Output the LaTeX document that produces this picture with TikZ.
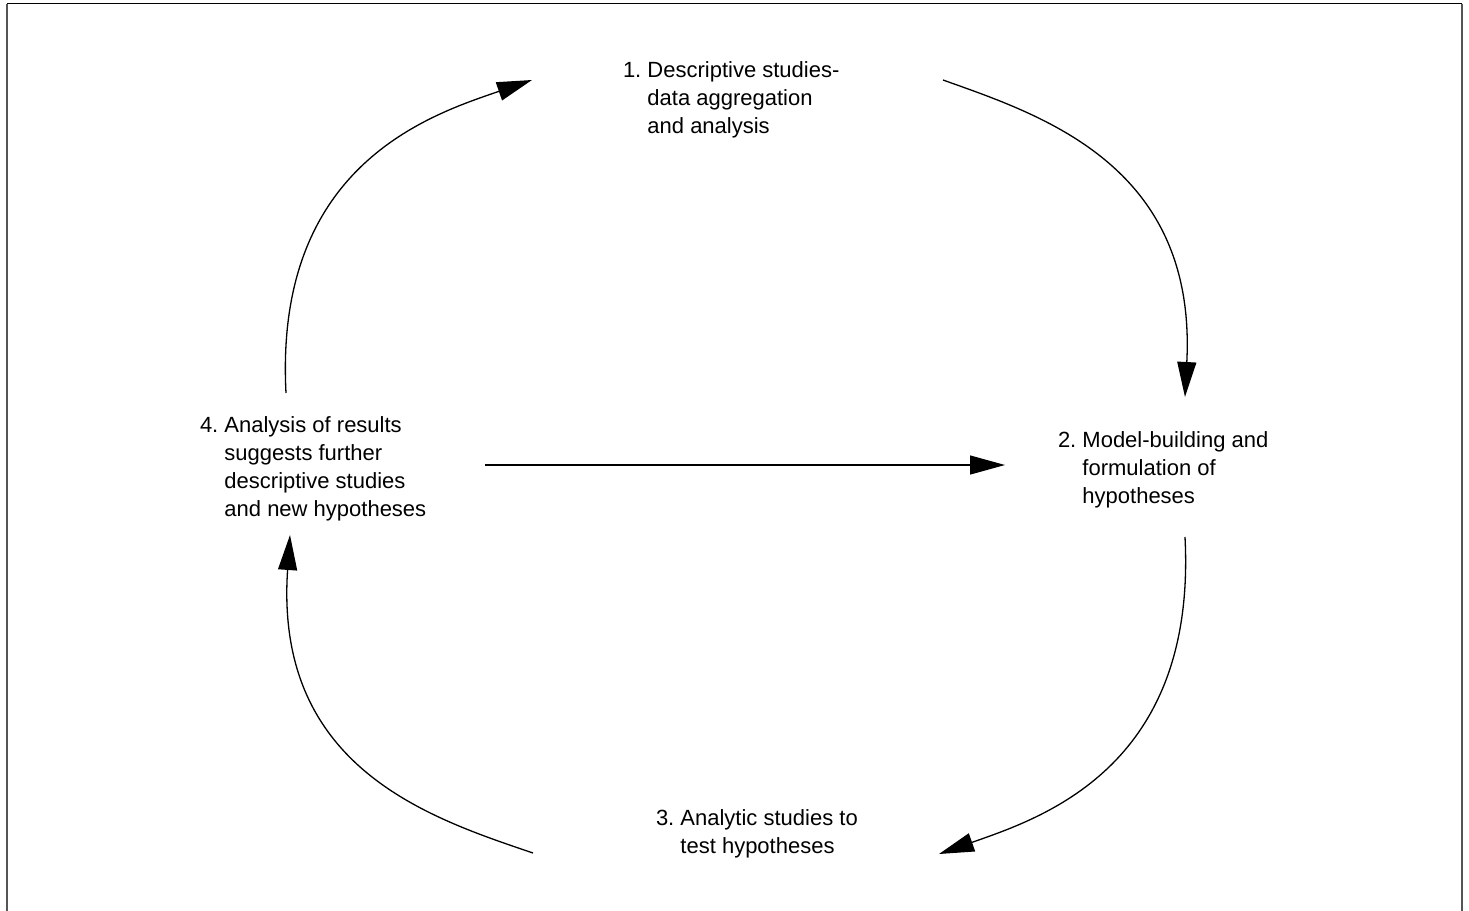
\documentclass[tikz,border=0pt]{standalone}
\usepackage{fontspec}
\setmainfont{Liberation Sans}
\usetikzlibrary{arrows.meta}
\definecolor{CFrame}{HTML}{555555}
\definecolor{CInk}{HTML}{000000}
\newcommand{\lblfont}{\fontsize{11}{14}\selectfont}

\tikzset{
  lbl/.style={inner sep=0pt, outer sep=0pt, anchor=base west, font=\lblfont, text=CInk},
  cyc/.style={line width=0.65pt, CInk, -{Triangle[length=17.5pt, width=9.5pt]}}
}

\begin{document}
\begin{tikzpicture}[x=0.5pt, y=-0.5pt]
  \useasboundingbox (0,0) rectangle (1469,911);

  % ============================================
  % Frame (cut at the bottom)
  % ============================================
  \draw[CInk, line width=0.7pt] (7,3.5) -- (1462,3.5);
  \draw[CFrame, line width=1.3pt] (7,3.5) -- (7,915);
  \draw[CFrame, line width=1.3pt] (1462,3.5) -- (1462,915);

  % ============================================
  % Stages of the cycle
  % ============================================
  \node[lbl] (n1) at (623,77) {\begin{tabular}[t]{@{}l@{\ }l@{}}
    1. & Descriptive studies-\\ & data aggregation\\ & and analysis\end{tabular}};
  \node[lbl] (n2) at (1058,447) {\begin{tabular}[t]{@{}l@{\ }l@{}}
    2. & Model-building and\\ & formulation of\\ & hypotheses\end{tabular}};
  \node[lbl] (n3) at (656,825) {\begin{tabular}[t]{@{}l@{\ }l@{}}
    3. & Analytic studies to\\ & test hypotheses\end{tabular}};
  \node[lbl] (n4) at (200,432) {\begin{tabular}[t]{@{}l@{\ }l@{}}
    4. & Analysis of results\\ & suggests further\\ & descriptive studies\\ & and new hypotheses\end{tabular}};

  % ============================================
  % Arcs round the cycle
  % ============================================
  % 4 -> 1
  \draw[cyc] ([shift={(86,-39)}]n4.base west)
    .. controls +(-12,-228) and +(-102,35) .. ([shift={(-91,3)}]n1.base west);
  % 1 -> 2
  \draw[cyc] ([shift={(320,3)}]n1.base west)
    .. controls +(98,35) and +(12,-232) .. ([shift={(127,-50)}]n2.base west);
  % 2 -> 3
  \draw[cyc] ([shift={(127,90)}]n2.base west)
    .. controls +(12,231) and +(102,-36) .. ([shift={(283,29)}]n3.base west);
  % 3 -> 4
  \draw[cyc] ([shift={(-123,28)}]n3.base west)
    .. controls +(-103,-35) and +(-16,233) .. ([shift={(90,103)}]n4.base west);

  % Shortcut 4 -> 2
  \draw[cyc] ([shift={(285,33)}]n4.base west) -- ([shift={(-53,18)}]n2.base west);

\end{tikzpicture}
\end{document}
